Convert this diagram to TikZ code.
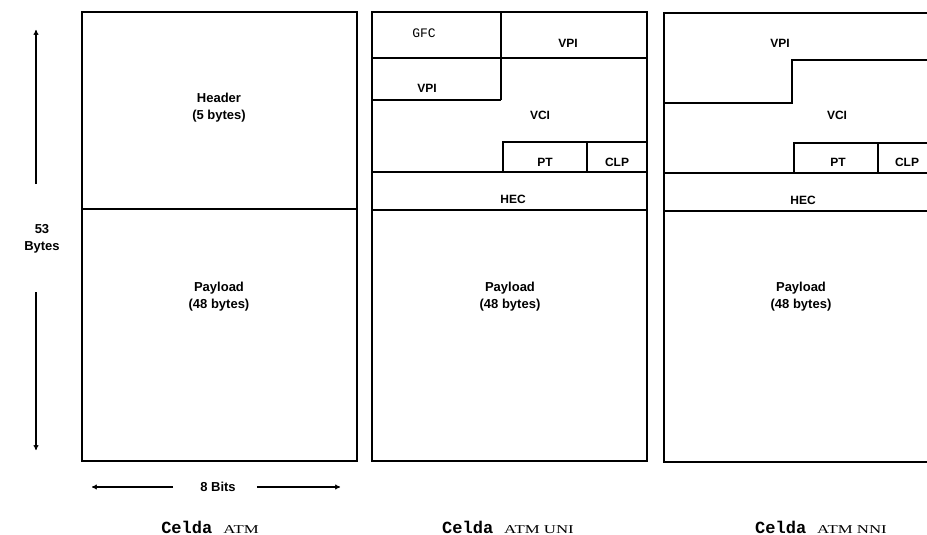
\documentclass[tikz,border=0pt]{standalone}
\usepackage{fontspec}
\setmainfont{Liberation Sans}
\newfontfamily\courierfont{Liberation Mono}
\newfontfamily\timesfont{Liberation Serif}
\usetikzlibrary{arrows.meta}

% small widened "ATM ..." tag after "Celda"
\newcommand{\atmtag}[1]{\hspace{11pt}\scalebox{1.4}[1]{\timesfont\mdseries\fontsize{12}{14}\selectfont #1}}

\begin{document}
\begin{tikzpicture}[
    x=1pt, y=-1pt,
    every node/.style={font=\fontsize{13}{17}\selectfont\bfseries, align=center, inner sep=1pt},
    cellbox/.style={draw, line width=1.7pt},
    field/.style={draw, line width=1.3pt},
    fieldlbl/.style={font=\fontsize{12}{14}\selectfont\bfseries},
    gfclbl/.style={font=\courierfont\fontsize{13}{15}\selectfont},
    celdalbl/.style={font=\courierfont\fontsize{17}{19}\selectfont\bfseries},
    dimarrow/.style={-{To[length=5pt, width=5pt]}, line width=1.2pt},
]

\useasboundingbox (0,0) rectangle (927,535);
\clip (0,0) rectangle (927,535);

% Cell widths / positions
\def\cA{82}
\def\cB{372}
\def\cC{664}
\def\cw{275}

% ---------------- Celda ATM ----------------
\draw[cellbox] (\cA,12) rectangle (\cA+\cw,461);
\draw[field] (\cA,209) -- (\cA+\cw,209);
\node (header) at (219,108) {Header\\(5 bytes)};
\node (payA) at (219,297) {Payload\\(48 bytes)};

% 53 Bytes dimension
\node (bytes) at (42,239) {53\\Bytes};
\coordinate (bup) at (36,184);
\coordinate (btop) at (36,30);
\coordinate (bdown) at (36,292);
\coordinate (bbot) at (36,450);
\draw[dimarrow] (bup) -- (btop);
\draw[dimarrow] (bdown) -- (bbot);

% 8 Bits dimension
\node (bits) at (218,487) {8 Bits};
\coordinate (bleft) at (92,487);
\coordinate (bright) at (340,487);
\draw[dimarrow] ([xshift=-26pt]bits.west) -- (bleft);
\draw[dimarrow] ([xshift=20pt]bits.east) -- (bright);

\node[celdalbl] (celdaA) at (210,527) {Celda\atmtag{ATM}};

% ---------------- Celda ATM UNI ----------------
\draw[cellbox] (\cB,12) rectangle (\cB+\cw,461);
\draw[field] (501,12) -- (501,100);
\draw[field] (\cB,58) -- (\cB+\cw,58);
\draw[field] (\cB,100) -- (501,100);
\draw[field] (503,172) -- (503,142) -- (\cB+\cw,142);
\draw[field] (587,142) -- (587,172);
\draw[field] (\cB,172) -- (\cB+\cw,172);
\draw[field] (\cB,210) -- (\cB+\cw,210);

\node[gfclbl] (gfc) at (424,33) {GFC};
\node[fieldlbl] (vpiB1) at (568,43) {VPI};
\node[fieldlbl] (vpiB2) at (427,88) {VPI};
\node[fieldlbl] (vciB) at (540,115) {VCI};
\node[fieldlbl] (ptB) at (545,162) {PT};
\node[fieldlbl] (clpB) at (617,162) {CLP};
\node[fieldlbl] (hecB) at (513,199) {HEC};
\node (payB) at (510,297) {Payload\\(48 bytes)};

\node[celdalbl] (celdaB) at (508,527) {Celda\atmtag{ATM UNI}};

% ---------------- Celda ATM NNI ----------------
\draw[cellbox] (\cC,13) rectangle (\cC+\cw,462);
\draw[field] (\cC,103) -- (792,103) -- (792,60) -- (\cC+\cw,60);
\draw[field] (794,173) -- (794,143) -- (\cC+\cw,143);
\draw[field] (878,143) -- (878,173);
\draw[field] (\cC,173) -- (\cC+\cw,173);
\draw[field] (\cC,211) -- (\cC+\cw,211);

\node[fieldlbl] (vpiC) at (780,43) {VPI};
\node[fieldlbl] (vciC) at (837,115) {VCI};
\node[fieldlbl] (ptC) at (838,162) {PT};
\node[fieldlbl] (clpC) at (907,162) {CLP};
\node[fieldlbl] (hecC) at (803,200) {HEC};
\node (payC) at (801,297) {Payload\\(48 bytes)};

\node[celdalbl] (celdaC) at (821,527) {Celda\atmtag{ATM NNI}};

\end{tikzpicture}
\end{document}
